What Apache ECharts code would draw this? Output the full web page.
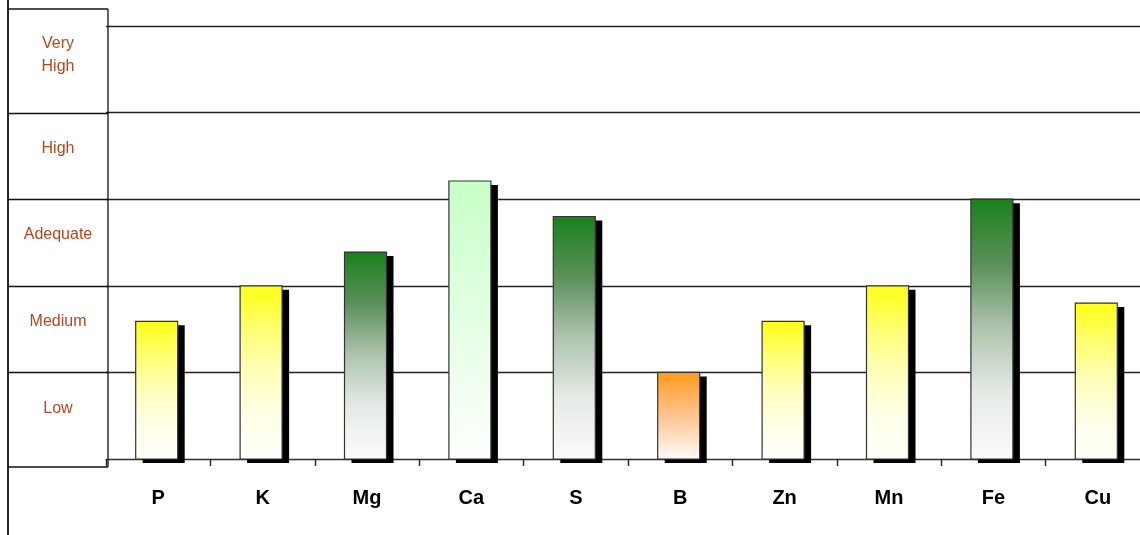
<!DOCTYPE html>
<html>
<head>
<meta charset="utf-8">
<script src="https://cdn.jsdelivr.net/npm/echarts@6/dist/echarts.min.js"></script>
<style>
html,body{margin:0;padding:0;background:#fff;overflow:hidden;}
#chart{width:1150px;height:535px;}
</style>
</head>
<body>
<div id="chart"></div>
<script>
// Data
const elements = ['P', 'K', 'Mg', 'Ca', 'S', 'B', 'Zn', 'Mn', 'Fe', 'Cu'];
const levels = [1.59, 2.0, 2.39, 3.21, 2.8, 1.0, 1.59, 2.0, 3.0, 1.8];
const ratingLabels = ['Low', 'Medium', 'Adequate', 'High', 'Very\nHigh'];

function grad(stops) {
  return new echarts.graphic.LinearGradient(0, 0, 0, 1, stops.map(function (s) {
    return { offset: s[0], color: s[1] };
  }));
}
function colorFor(v) {
  if (v <= 1) return grad([[0, '#ff9a1a'], [0.5, '#ffc590'], [1, '#fffcfa']]);
  if (v <= 2) return grad([[0, '#ffff14'], [0.25, '#ffff70'], [0.5, '#ffffbc'], [0.75, '#ffffe8'], [1, '#fffffc']]);
  if (v <= 3) return grad([[0, '#1a801a'], [0.25, '#5a905a'], [0.5, '#b0c4b0'], [0.75, '#e6ebe6'], [1, '#fbfbfb']]);
  return grad([[0, '#c8ffc8'], [1, '#ffffff']]);
}

const BAR_W = 42, SH_X = 7, SH_Y = 4;

const chart = echarts.init(document.getElementById('chart'));
chart.setOption({
  animation: false,
  backgroundColor: '#fff',
  grid: { left: 106, right: 0, top: 26, bottom: 76, containLabel: false },
  xAxis: {
    type: 'category',
    data: elements,
    axisLine: { show: true, lineStyle: { color: '#333', width: 1 } },
    axisTick: { show: true, length: 7, lineStyle: { color: '#222', width: 1.4 } },
    axisLabel: {
      margin: 29,
      fontFamily: 'Liberation Sans, Arial, sans-serif',
      fontWeight: 'bold',
      fontSize: 20,
      color: '#000'
    }
  },
  yAxis: [
    {
      type: 'value',
      min: 0, max: 5, interval: 1,
      axisLine: { show: false },
      axisTick: { show: false },
      axisLabel: { show: false },
      splitLine: { show: true, lineStyle: { color: '#222', width: 1.3 } }
    },
    {
      type: 'category',
      data: ratingLabels,
      position: 'left',
      boundaryGap: true,
      axisLine: { show: false },
      axisTick: { show: false },
      splitLine: { show: false },
      axisLabel: {
        margin: 48,
        align: 'center',
        formatter: function (v) {
          return v.indexOf('\n') >= 0 ? '{vh|' + v + '}' : '{n|' + v + '}';
        },
        rich: {
          n: {
            fontFamily: 'Liberation Sans, Arial, sans-serif',
            fontSize: 16, color: '#b0481c', lineHeight: 23, padding: [0, 0, 15, 0]
          },
          vh: {
            fontFamily: 'Liberation Sans, Arial, sans-serif',
            fontSize: 16, color: '#b0481c', lineHeight: 23, padding: [0, 0, 28, 0]
          }
        }
      }
    }
  ],
  series: [{
    type: 'custom',
    xAxisIndex: 0,
    yAxisIndex: 0,
    data: levels.map(function (v, i) { return [i, v]; }),
    renderItem: function (params, api) {
      const i = api.value(0), v = api.value(1);
      const top = api.coord([i, v]);
      const base = api.coord([i, 0]);
      const x = top[0] - BAR_W / 2 - 1.5;
      const h = base[1] - top[1];
      return {
        type: 'group',
        children: [
          {
            type: 'rect',
            shape: { x: x + SH_X, y: top[1] + SH_Y, width: BAR_W, height: h },
            style: { fill: '#000' }
          },
          {
            type: 'rect',
            shape: { x: x, y: top[1], width: BAR_W, height: h },
            style: { fill: colorFor(v), stroke: '#333', lineWidth: 1.2 }
          }
        ]
      };
    }
  }]
});

// Left rating box outline (decoration aligned to the value scale)
const boxL = 8, boxR = 108, boxTop = 9, boxBottom = 467;
const g = [];
function line(x1, y1, x2, y2, w) {
  g.push({ type: 'line', shape: { x1: x1, y1: y1, x2: x2, y2: y2 }, style: { stroke: '#111', lineWidth: w || 1.3 }, silent: true });
}
line(boxL, 0, boxL, 535, 1.8);
line(boxR, boxTop, boxR, boxBottom, 1.3);
line(boxL, boxTop, boxR, boxTop, 1.5);
line(boxL, boxBottom, boxR, boxBottom, 1.5);
for (let v = 1; v <= 4; v++) {
  const y = Math.round(chart.convertToPixel({ yAxisIndex: 0 }, v)) + 0.5;
  line(boxL, y, boxR, y, 1.3);
}
chart.setOption({ graphic: g });
</script>
</body>
</html>
